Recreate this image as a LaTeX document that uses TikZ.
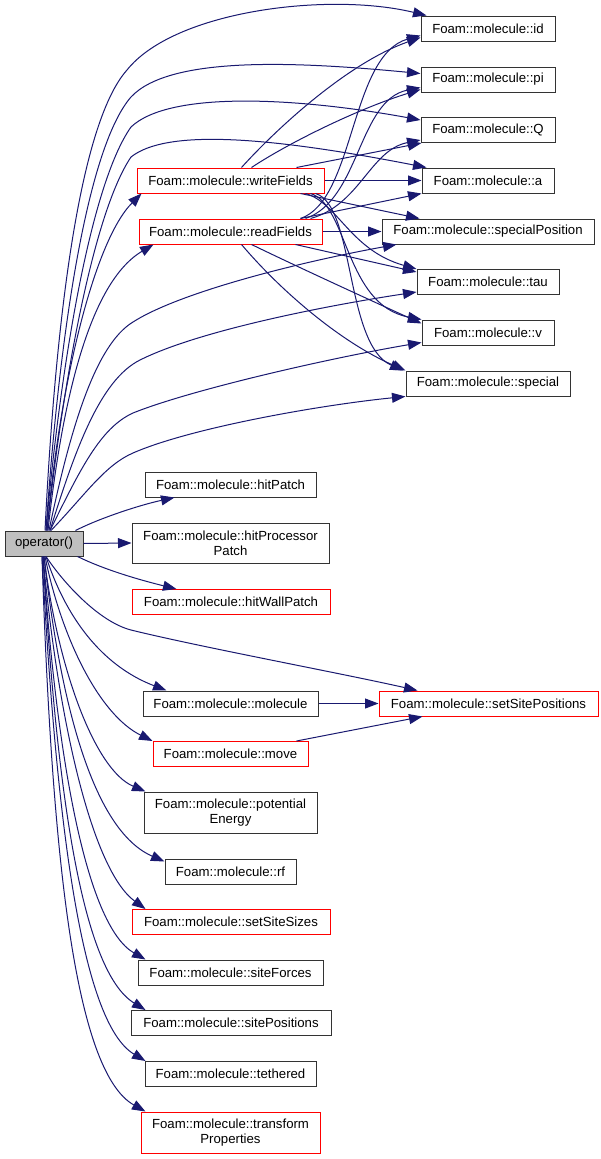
\documentclass[tikz,border=0pt]{standalone}
\usepackage{fontspec}
\setmainfont{Liberation Sans}
\usepackage{xcolor}
\usetikzlibrary{shapes, arrows.meta, positioning}
\definecolor{midnight}{HTML}{191970}

\begin{document}
\begin{tikzpicture}[x=1pt, y=-1pt,
            box/.style={draw=black!80, line width=1pt, rectangle, inner sep=0pt, minimum height=25pt, align=center, font=\fontsize{13.2}{15}\selectfont},
            redbox/.style={box, draw=red},
            edge/.style={draw=midnight, line width=1pt, -{Triangle[length=13.5pt, width=10pt]}}]

            \useasboundingbox (0,0) rectangle (601,1159);
            \fill[white] (0,0) rectangle (601,1159);

            \node[box, fill=black!25, minimum width=78pt] (op) at (44,543.5) {operator()};

            \node[box, minimum width=134pt] (id) at (488,28.5) {Foam::molecule::id};
            \node[box, minimum width=134pt] (pi) at (488,79.5) {Foam::molecule::pi};
            \node[box, minimum width=134pt] (Q) at (488,130) {Foam::molecule::Q};
            \node[box, minimum width=132pt] (a) at (488,180.5) {Foam::molecule::a};
            \node[box, minimum width=212pt] (sp) at (488,231.5) {Foam::molecule::specialPosition};
            \node[box, minimum width=142pt] (tau) at (488,282) {Foam::molecule::tau};
            \node[box, minimum width=132pt] (v) at (488,332.5) {Foam::molecule::v};
            \node[box, minimum width=164pt] (special) at (488,383.5) {Foam::molecule::special};

            \node[redbox, minimum width=187pt] (wf) at (230.5,180.5) {Foam::molecule::writeFields};
            \node[redbox, minimum width=183pt] (rdf) at (230.5,231.5) {Foam::molecule::readFields};

            \node[box, minimum width=171pt] (hp) at (230.5,484.5) {Foam::molecule::hitPatch};
            \node[box, minimum width=197pt, minimum height=40pt] (hpp) at (230.5,543) {Foam::molecule::hitProcessor\\Patch};
            \node[redbox, minimum width=198pt] (hwp) at (231,602) {Foam::molecule::hitWallPatch};
            \node[box, minimum width=175pt] (mol) at (230.5,703.5) {Foam::molecule::molecule};
            \node[redbox, minimum width=219pt] (ssp) at (488.5,703.5) {Foam::molecule::setSitePositions};
            \node[redbox, minimum width=155pt] (move) at (230.5,754) {Foam::molecule::move};
            \node[box, minimum width=173pt, minimum height=41pt] (pe) at (230.5,812.5) {Foam::molecule::potential\\Energy};
            \node[box, minimum width=131pt] (rf) at (230.5,871.5) {Foam::molecule::rf};
            \node[redbox, minimum width=198pt] (sss) at (231,922) {Foam::molecule::setSiteSizes};
            \node[box, minimum width=185pt] (sf) at (230.5,972.5) {Foam::molecule::siteForces};
            \node[box, minimum width=200pt] (spo) at (231,1023) {Foam::molecule::sitePositions};
            \node[box, minimum width=171pt] (teth) at (230.5,1074) {Foam::molecule::tethered};
            \node[redbox, minimum width=179pt, minimum height=41pt] (tp) at (230.5,1132.5) {Foam::molecule::transform\\Properties};

            % operator() upwards
            \draw[edge] ([xshift=1pt]op.north) .. controls (55,330) and (78,125) .. (127,70) .. controls (175,10) and (330,-8) .. ([xshift=6pt]id.north west);
            \draw[edge] ([xshift=2pt]op.north) .. controls (58,350) and (85,150) .. (131,97) .. controls (170,55) and (300,62) .. ([yshift=6pt]pi.west);
            \draw[edge] ([xshift=2pt]op.north) .. controls (60,370) and (90,185) .. (131,127) .. controls (170,90) and (300,98) .. ([yshift=10pt]Q.west);
            \draw[edge] ([xshift=3pt]op.north) .. controls (62,390) and (92,215) .. (131,157) .. controls (165,130) and (260,135) .. ([xshift=5pt]a.north west);
            \draw[edge] ([xshift=3pt]op.north) .. controls (60,380) and (95,240) .. ([xshift=5pt]wf.south west);
            \draw[edge] ([xshift=4pt]op.north) .. controls (60,420) and (85,285) .. ([xshift=15pt]rdf.south west);
            \draw[edge] ([xshift=5pt]op.north) .. controls (70,430) and (95,345) .. (133,322) .. controls (180,292) and (300,262) .. ([xshift=15pt]sp.south west);
            \draw[edge] ([xshift=6pt]op.north) .. controls (75,450) and (100,380) .. (140,360) .. controls (200,330) and (330,305) .. ([yshift=3pt]tau.south west);
            \draw[edge] ([xshift=6pt]op.north) .. controls (80,470) and (100,428) .. (133,413) .. controls (190,390) and (330,358) .. ([yshift=3pt]v.south west);
            \draw[edge] ([xshift=7pt]op.north) .. controls (85,495) and (105,465) .. (133,453) .. controls (190,428) and (320,405) .. (special.south west);
            \draw[edge] ([xshift=-8pt]op.north east) .. controls (100,518) and (140,505) .. ([xshift=30pt]hp.south west);

            % operator() sideways and downwards
            \draw[edge] (op.east) -- (hpp.west);
            \draw[edge] ([xshift=-6pt]op.south east) .. controls (105,570) and (140,580) .. ([xshift=45pt]hwp.north west);
            \draw[edge] ([xshift=2pt]op.south) .. controls (65,585) and (100,622) .. (131,630) .. controls (200,647) and (340,673) .. ([xshift=39pt]ssp.north west);
            \draw[edge] ([xshift=2pt]op.south) .. controls (65,615) and (100,665) .. ([xshift=24pt]mol.north west);
            \draw[edge] ([xshift=1pt]op.south) .. controls (62,640) and (100,715) .. (move.north west);
            \draw[edge] (op.south) .. controls (58,670) and (95,770) .. ([xshift=2pt]pe.north west);
            \draw[edge] (op.south) .. controls (60,700) and (92,830) .. ([yshift=-3pt]rf.north west);
            \draw[edge] ([xshift=-1pt]op.south) .. controls (58,720) and (92,870) .. ([xshift=14pt]sss.north west);
            \draw[edge] ([xshift=-1pt]op.south) .. controls (56,750) and (85,925) .. ([xshift=8pt]sf.north west);
            \draw[edge] ([xshift=-1pt]op.south) .. controls (56,780) and (80,970) .. ([xshift=15pt]spo.north west);
            \draw[edge] ([xshift=-2pt]op.south) .. controls (56,815) and (80,1022) .. ([xshift=1pt]teth.north west);
            \draw[edge] ([xshift=-2pt]op.south) .. controls (52,860) and (75,1072) .. ([xshift=5pt]tp.north west);

            % writeFields
            \draw[edge] ([xshift=11pt]wf.north) .. controls (280,125) and (350,62) .. ([yshift=4pt]id.south west);
            \draw[edge] ([xshift=21pt]wf.north) .. controls (290,142) and (360,108) .. ([yshift=3pt]pi.south west);
            \draw[edge] ([xshift=66pt]wf.north) -- ([xshift=1pt]Q.south west);
            \draw[edge] (wf.east) -- (a.west);
            \draw[edge] ([xshift=70pt]wf.south) -- ([xshift=38pt]sp.north west);
            \draw[edge] ([xshift=75pt]wf.south) .. controls (338,203) and (350,250) .. (tau.north west);
            \draw[edge] ([xshift=80pt]wf.south) .. controls (348,205) and (345,305) .. (v.north west);
            \draw[edge] ([xshift=85pt]wf.south) .. controls (355,205) and (345,345) .. ([xshift=-2pt]special.north west);

            % readFields
            \draw[edge] ([xshift=70pt]rdf.north) .. controls (355,200) and (350,55) .. ([yshift=6pt]id.south west);
            \draw[edge] ([xshift=75pt]rdf.north) .. controls (360,200) and (358,100) .. ([yshift=5pt]pi.south west);
            \draw[edge] ([xshift=80pt]rdf.north) .. controls (360,205) and (370,150) .. ([yshift=3pt]Q.south west);
            \draw[edge] ([xshift=70pt]rdf.north) -- (a.south west);
            \draw[edge] (rdf.east) -- (sp.west);
            \draw[edge] ([xshift=65pt]rdf.south) -- ([yshift=-3pt]tau.north west);
            \draw[edge] ([xshift=21pt]rdf.south) .. controls (300,268) and (370,300) .. ([yshift=-4pt]v.north west);
            \draw[edge] ([xshift=11pt]rdf.south) .. controls (280,290) and (340,342) .. (special.north west);

            % setSitePositions
            \draw[edge] (mol.east) -- (ssp.west);
            \draw[edge] ([xshift=66pt]move.north) -- ([xshift=44pt]ssp.south west);
        \end{tikzpicture}
\end{document}
